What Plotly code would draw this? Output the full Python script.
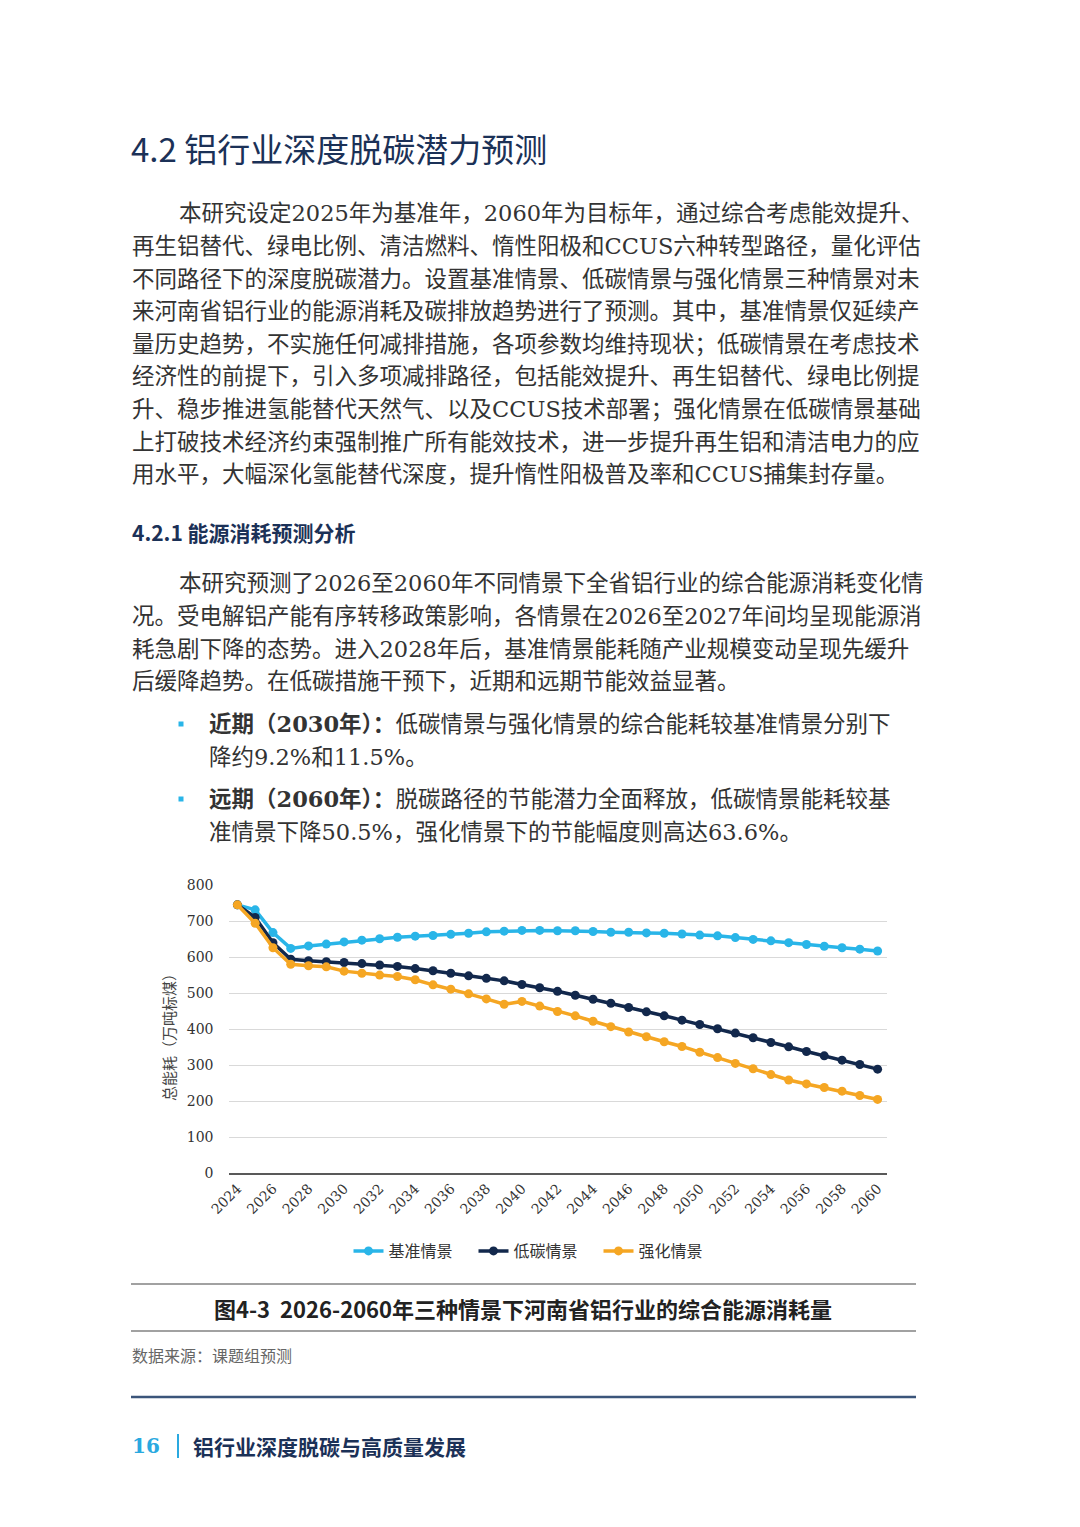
import plotly.graph_objects as go

# the page body has an 8px margin, so the figure is drawn 8px smaller and all
# positions below are page pixels shifted by OFF
OFF = 8
W, H = 1080 - 2 * OFF, 1527 - 2 * OFF

years = list(range(2024, 2061))
baseline = [745, 731, 668, 624, 631, 636, 642, 647, 651, 655, 658, 660, 663, 666, 670, 672, 674,
            674, 673, 673, 671, 669, 669, 667, 666, 664, 661, 659, 654, 649, 645, 640, 635, 630, 626, 622, 617]
low_carbon = [745, 710, 640, 594, 590, 587, 585, 582, 578, 574, 568, 562, 555, 548, 541, 534, 524,
              515, 505, 494, 483, 472, 460, 448, 437, 425, 413, 401, 389, 376, 363, 351, 338, 326, 314, 302, 289]
enhanced = [745, 694, 626, 580, 576, 573, 561, 555, 550, 546, 537, 523, 511, 498, 484, 469, 477,
            464, 449, 437, 422, 407, 392, 379, 365, 352, 336, 321, 305, 290, 274, 259, 248, 238, 228, 216, 205]
series_names = ["基准情景", "低碳情景", "强化情景"]
y_ticks = list(range(0, 801, 100))
x_ticks = list(range(2024, 2061, 2))

BLUE = "#29b5e8"
NAVY = "#12284c"
ORANGE = "#f5a623"
SANS = "Noto Sans CJK SC"
SERIF = "DejaVu Serif, Noto Sans CJK SC"
TEXT = "#333333"
HEAD = "#1b3157"


def px(x):
    return (x - OFF) / W


def py(y):
    return 1 - (y - OFF) / H


fig = go.Figure()
for name, vals, color in zip(series_names, [baseline, low_carbon, enhanced], [BLUE, NAVY, ORANGE]):
    fig.add_trace(go.Scatter(
        x=years, y=vals, name=name, mode="lines+markers",
        line=dict(color=color, width=3.5),
        marker=dict(color=color, size=9),
    ))

fig.update_layout(
    width=W, height=H,
    margin=dict(l=0, r=0, t=0, b=0),
    paper_bgcolor="white", plot_bgcolor="white",
    showlegend=True,
    legend=dict(
        orientation="h", x=px(536), xanchor="center", y=py(1251), yanchor="middle",
        font=dict(family=SANS, size=16, color=TEXT),
        entrywidth=80, entrywidthmode="pixels", itemclick=False,
    ),
    xaxis=dict(
        domain=[px(228.5), px(886.5)], range=[2023.5, 2060.5],
        tickvals=x_ticks, ticktext=[str(v) for v in x_ticks], tickangle=-45,
        tickfont=dict(family="DejaVu Serif", size=14, color=TEXT),
        showgrid=False, zeroline=False, showline=True, linecolor="#595959", linewidth=1.5,
        ticks="", automargin=False, fixedrange=True,
    ),
    yaxis=dict(
        domain=[py(1173.3), py(885)], range=[0, 800],
        tickvals=y_ticks, tickfont=dict(family="DejaVu Serif", size=14, color=TEXT),
        showgrid=True, gridcolor="#d9d9d9", gridwidth=1, zeroline=False,
        ticks="", ticklabelstandoff=14, automargin=False, fixedrange=True,
    ),
)


def add_text(x, y, text, size, color=TEXT, family=SERIF, xanchor="left", angle=0):
    fig.add_annotation(
        x=px(x), y=py(y), xref="paper", yref="paper", text=text, showarrow=False,
        xanchor=xanchor, yanchor="middle", textangle=angle,
        font=dict(size=size, color=color, family=family),
    )


def add_line(x0, y0, x1, y1, color, width):
    fig.add_shape(type="line", xref="paper", yref="paper",
                  x0=px(x0), y0=py(y0), x1=px(x1), y1=py(y1),
                  line=dict(color=color, width=width))


# heading
add_text(129, 148, "4.2 铝行业深度脱碳潜力预测", 33, HEAD, SANS)

para1 = [
    "本研究设定2025年为基准年，2060年为目标年，通过综合考虑能效提升、",
    "再生铝替代、绿电比例、清洁燃料、惰性阳极和CCUS六种转型路径，量化评估",
    "不同路径下的深度脱碳潜力。设置基准情景、低碳情景与强化情景三种情景对未",
    "来河南省铝行业的能源消耗及碳排放趋势进行了预测。其中，基准情景仅延续产",
    "量历史趋势，不实施任何减排措施，各项参数均维持现状；低碳情景在考虑技术",
    "经济性的前提下，引入多项减排路径，包括能效提升、再生铝替代、绿电比例提",
    "升、稳步推进氢能替代天然气、以及CCUS技术部署；强化情景在低碳情景基础",
    "上打破技术经济约束强制推广所有能效技术，进一步提升再生铝和清洁电力的应",
    "用水平，大幅深化氢能替代深度，提升惰性阳极普及率和CCUS捕集封存量。",
]
para1_y = [213, 246, 279, 311, 344, 376, 409, 442, 474]
for i, (line, y) in enumerate(zip(para1, para1_y)):
    add_text(177 if i == 0 else 130, y, line, 22.5)

add_text(130, 532, "<b>4.2.1 能源消耗预测分析</b>", 21, HEAD, SANS)

para2 = [
    "本研究预测了2026至2060年不同情景下全省铝行业的综合能源消耗变化情",
    "况。受电解铝产能有序转移政策影响，各情景在2026至2027年间均呈现能源消",
    "耗急剧下降的态势。进入2028年后，基准情景能耗随产业规模变动呈现先缓升",
    "后缓降趋势。在低碳措施干预下，近期和远期节能效益显著。",
]
para2_y = [583, 616, 649, 681]
for i, (line, y) in enumerate(zip(para2, para2_y)):
    add_text(177 if i == 0 else 130, y, line, 22.5)

bullets = [
    ("<b>近期（2030年）：</b>低碳情景与强化情景的综合能耗较基准情景分别下", "降约9.2%和11.5%。", 724),
    ("<b>远期（2060年）：</b>脱碳路径的节能潜力全面释放，低碳情景能耗较基", "准情景下降50.5%，强化情景下的节能幅度则高达63.6%。", 799),
]
for first, second, y in bullets:
    fig.add_shape(type="rect", xref="paper", yref="paper",
                  x0=px(178.5), x1=px(183.5), y0=py(y + 2.5), y1=py(y - 2.5),
                  fillcolor=BLUE, line=dict(width=0))
    add_text(207, y, first, 22.5)
    add_text(207, y + 33, second, 22.5)

# y axis title
add_text(168, 1034, "总能耗（万吨标煤）", 15, "#444444", SANS, xanchor="center", angle=-90)

# caption block
add_line(131, 1284, 916, 1284, "#444444", 1.2)
add_text(523, 1308, "<b>图4-3\u00a0\u00a02026-2060年三种情景下河南省铝行业的综合能源消耗量</b>", 22, "#222222", SANS,
         xanchor="center")
add_line(131, 1331, 916, 1331, "#444444", 1.2)
add_text(130, 1355, "数据来源：课题组预测", 16, "#666666", SANS)

# footer
add_line(131, 1397, 916, 1397, "#3b557a", 2.5)
add_text(130, 1446, "<b>16</b>", 20, "#2aa9e0", "DejaVu Serif")
add_line(178, 1434, 178, 1458, "#2aa9e0", 2)
add_text(191, 1446, "<b>铝行业深度脱碳与高质量发展</b>", 21, HEAD, SANS)

fig.write_html("out.html", config={"displayModeBar": False})
